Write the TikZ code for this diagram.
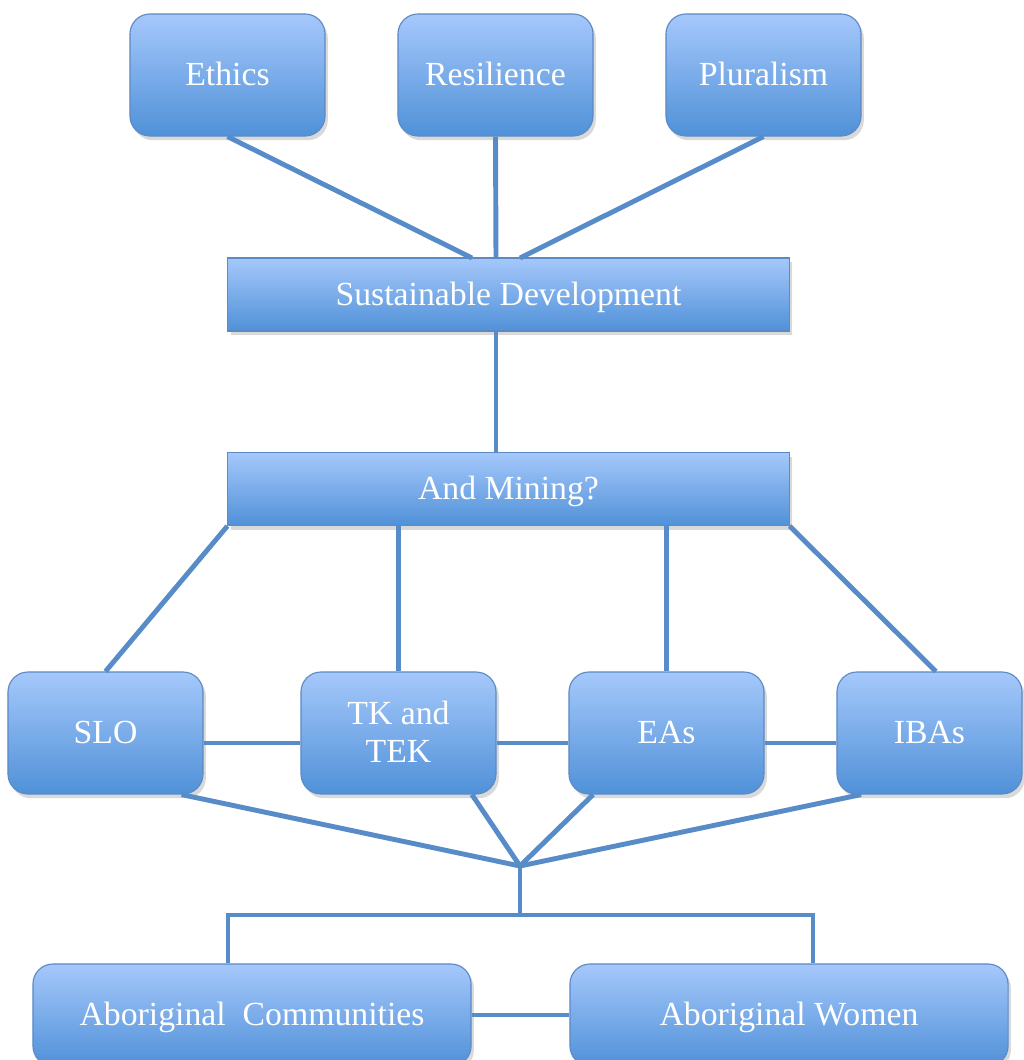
\documentclass[tikz,border=0pt]{standalone}
\usepackage{fontspec}
\setmainfont{Liberation Serif}
\usetikzlibrary{shadows}
\definecolor{linkblue}{RGB}{88,140,200}
\definecolor{boxtop}{RGB}{165,200,251}
\definecolor{boxbot}{RGB}{80,145,216}
\definecolor{boxline}{RGB}{92,138,196}

\begin{document}
\begin{tikzpicture}[x=0.025cm,y=-0.025cm]
\tikzstyle{every node}=[font=\fontsize{24}{27}\selectfont,text=white,align=center,text height=18pt,text depth=3pt]
\tikzstyle{blue box}=[draw=boxline,line width=0.8pt,top color=boxtop,bottom color=boxbot,inner sep=0pt,
  drop shadow={opacity=0.3,shadow xshift=2pt,shadow yshift=-3pt}]
\tikzstyle{round box}=[blue box,rounded corners=0.5cm,minimum width=4.875cm,minimum height=3.05cm]
\tikzstyle{flat box}=[blue box,minimum width=14.025cm,minimum height=1.825cm]
\tikzstyle{link}=[draw=linkblue,line width=3.5pt]
\useasboundingbox (0,0) rectangle (1024,1060);

% top row
\node[round box] (ethics) at (227.5,75) {Ethics};
\node[round box] (resil) at (495.5,75) {Resilience};
\node[round box] (plural) at (763.5,75) {Pluralism};
\node[flat box] (sd) at (508.5,294.5) {Sustainable Development};
\node[flat box] (mining) at (508.5,489) {And Mining?};

% middle row
\node[round box] (slo) at (105.5,733) {SLO};
\node[round box,text height=45pt] (tk) at (398.5,733) {TK and\\TEK};
\node[round box] (eas) at (666.5,733) {EAs};
\node[round box,minimum width=4.625cm] (ibas) at (929.5,733) {IBAs};

% bottom row
\node[round box,minimum width=10.95cm,minimum height=2.55cm] (comm) at (252,1015) {Aboriginal~ Communities};
\node[round box,minimum width=10.95cm,minimum height=2.55cm] (women) at (789,1015) {Aboriginal Women};

\coordinate (sdtop) at (496,258);
\coordinate (hub) at (520,866);
\coordinate (barm) at (520,915);
\coordinate (barl) at (228,915);
\coordinate (barr) at (813,915);

\draw[link] (ethics.south) -- ([xshift=-0.6cm]sdtop);
\draw[link] (resil.south) -- (sdtop);
\draw[link] (plural.south) -- ([xshift=0.6cm]sdtop);
\draw[link] (sdtop |- sd.south) -- (sdtop |- mining.north);

\draw[link] (mining.south west) -- (slo.north);
\draw[link] (tk.north |- mining.south) -- (tk.north);
\draw[link] (eas.north |- mining.south) -- (eas.north);
\draw[link] (mining.south east) -- ([xshift=0.16cm]ibas.north);

\draw[link] ([yshift=-0.25cm]slo.east) -- ([yshift=-0.25cm]tk.west);
\draw[link] ([yshift=-0.25cm]tk.east) -- ([yshift=-0.25cm]eas.west);
\draw[link] ([yshift=-0.25cm]eas.east) -- ([yshift=-0.25cm]ibas.west);

\draw[link] (slo.-39) -- (hub);
\draw[link] (tk.-40) -- (hub);
\draw[link] (eas.-140) -- (hub);
\draw[link] (ibas.-138) -- (hub);
\draw[link] (hub) -- (barm);
\draw[link] (barl |- comm.north) -- (barl) -- (barr) -- (barr |- women.north);
\draw[link] (comm.east) -- (women.west);

\end{tikzpicture}
\end{document}
